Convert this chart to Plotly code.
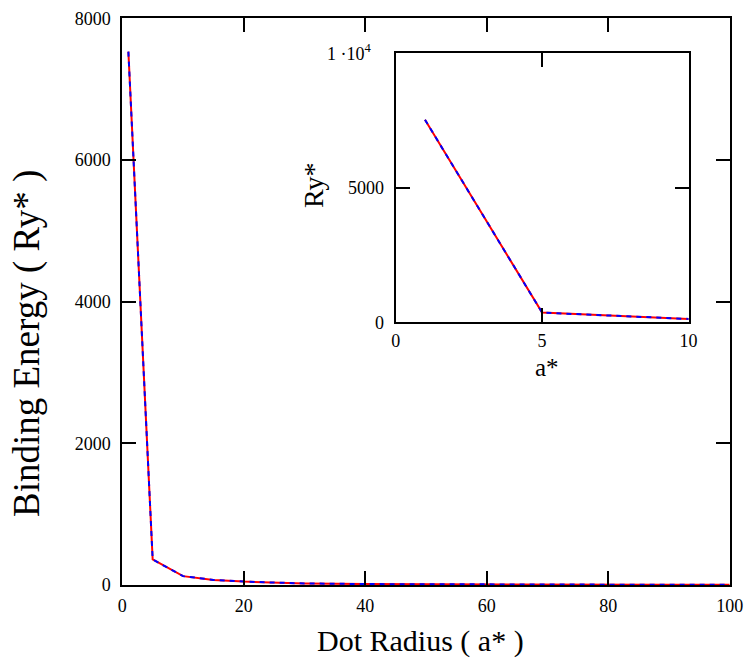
import plotly.graph_objects as go

# Dot radius (in effective Bohr radii a*) and binding energy (in effective Rydbergs Ry*)
dot_radius = [1, 5, 10, 15, 20, 25, 30, 40, 50, 60, 70, 80, 90, 100]
binding_energy = [7530, 360, 125, 72, 48, 32, 22, 13, 9, 6, 5, 4, 3, 2]

main_xticks = [0, 20, 40, 60, 80, 100]
main_yticks = [0, 2000, 4000, 6000, 8000]
inset_xticks = [0, 5, 10]
inset_yticks = [0, 5000]

W, H = 748, 662
TICK_FONT = dict(family="Liberation Serif", size=18, color="black")
TITLE_FONT = "Liberation Serif"


def px_x(p):
    return p / W


def px_y(p):
    return 1 - p / H


fig = go.Figure()

# Each curve: solid red line with a blue dashed line on top of it
for xa, ya in (("x", "y"), ("x2", "y2")):
    fig.add_trace(go.Scatter(
        x=dot_radius, y=binding_energy, mode="lines",
        line=dict(color="#ff0000", width=2),
        xaxis=xa, yaxis=ya, showlegend=False, hoverinfo="skip"))
    fig.add_trace(go.Scatter(
        x=dot_radius, y=binding_energy, mode="lines",
        line=dict(color="#0000ff", width=2, dash="5px,5px"),
        xaxis=xa, yaxis=ya, showlegend=False, hoverinfo="skip"))

frame = dict(showline=True, linecolor="black", linewidth=2, mirror="ticks",
             ticks="inside", ticklen=14, tickwidth=1.5, tickcolor="black",
             showgrid=False, zeroline=False, tickfont=TICK_FONT,
             automargin=False)

fig.update_layout(
    width=W, height=H,
    margin=dict(l=0, r=0, t=0, b=0, pad=0, autoexpand=False),
    paper_bgcolor="white", plot_bgcolor="white",
    xaxis=dict(domain=[px_x(122.3), px_x(729.7)], range=[0, 100],
               tickvals=main_xticks, ticklabelstandoff=3, anchor="y", **frame),
    yaxis=dict(domain=[px_y(585), px_y(18.3)], range=[0, 8000],
               tickvals=main_yticks, ticklabelstandoff=6, anchor="x", **frame),
    xaxis2=dict(domain=[px_x(395.7), px_x(688.5)], range=[0, 10],
                tickvals=inset_xticks, ticklabelstandoff=1, anchor="y2", **frame),
    yaxis2=dict(domain=[px_y(322.3), px_y(53.3)], range=[0, 10000],
                tickvals=inset_yticks, ticklabelstandoff=6, anchor="x2", **frame),
)

annotations = [
    # main axis titles
    dict(text="Dot Radius ( a* )", x=px_x(420), y=px_y(641),
         font=dict(family=TITLE_FONT, size=30, color="black")),
    dict(text="Binding Energy ( Ry* )", x=px_x(27), y=px_y(344), textangle=-90,
         font=dict(family=TITLE_FONT, size=37, color="black")),
    # inset axis titles
    dict(text="a*", x=px_x(547), y=px_y(367),
         font=dict(family=TITLE_FONT, size=25, color="black")),
    dict(text="Ry*", x=px_x(314), y=px_y(185), textangle=-90,
         font=dict(family=TITLE_FONT, size=28, color="black")),
    # top label of the inset energy axis
    dict(text="1 ·10<sup>4</sup>", x=px_x(374), y=px_y(52), xanchor="right",
         font=dict(family=TITLE_FONT, size=18, color="black")),
]
for a in annotations:
    a.setdefault("xanchor", "center")
    a.update(xref="paper", yref="paper", yanchor="middle", showarrow=False)
    fig.add_annotation(**a)

fig.write_html("out.html")
